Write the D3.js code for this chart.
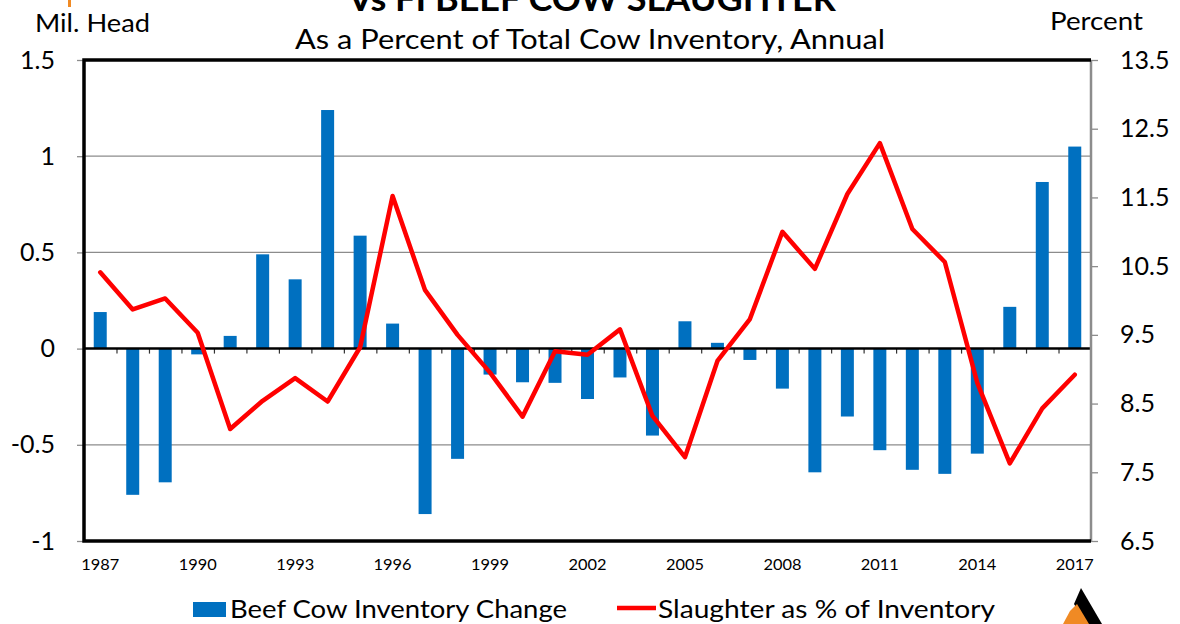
<!DOCTYPE html>
<html>
<head>
<meta charset="utf-8">
<script src="https://cdn.jsdelivr.net/npm/d3@7"></script>
<style>
  body { margin: 0; background: #fff; }
  svg { display: block; font-family: Lato, "Open Sans", sans-serif; }
</style>
</head>
<body>
<div id="chart"></div>
<script>
const years = d3.range(1987, 2018);
const inventoryChange = [0.19, -0.76, -0.695, -0.03, 0.066, 0.49, 0.36, 1.24, 0.587, 0.13,
    -0.86, -0.573, -0.135, -0.175, -0.178, -0.262, -0.15, -0.452, 0.142, 0.03,
    -0.059, -0.208, -0.643, -0.353, -0.528, -0.63, -0.651, -0.546, 0.217, 0.866, 1.05];
const slaughterPct = [10.41, 9.87, 10.03, 9.53, 8.13, 8.54, 8.87, 8.53, 9.32, 11.52,
    10.15, 9.5, 8.95, 8.31, 9.26, 9.21, 9.58, 8.32, 7.72, 9.12,
    9.73, 11.0, 10.46, 11.55, 12.29, 11.04, 10.56, 8.8, 7.63, 8.43, 8.92];
const leftTicks = [-1, -0.5, 0, 0.5, 1, 1.5];
const rightTicks = [6.5, 7.5, 8.5, 9.5, 10.5, 11.5, 12.5, 13.5];
const yearLabels = [1987, 1990, 1993, 1996, 1999, 2002, 2005, 2008, 2011, 2014, 2017];

const width = 1180;
const height = 624;
const margin = { top: 60, right: 89, bottom: 83, left: 84 };
const innerWidth = width - margin.left - margin.right;
const innerHeight = height - margin.top - margin.bottom;

const svg = d3.select("#chart")
    .append("svg")
    .attr("width", width)
    .attr("height", height);

const xScale = d3.scaleBand()
    .domain(years)
    .range([0, innerWidth])
    .paddingInner(0.6)
    .paddingOuter(0.3);

const xEdge = d3.scaleLinear()
    .domain([0, years.length])
    .range([0, innerWidth]);

const yLeft = d3.scaleLinear()
    .domain([-1, 1.5])
    .range([innerHeight, 0]);

const yRight = d3.scaleLinear()
    .domain([6.5, 13.5])
    .range([innerHeight, 0]);

const g = svg.append("g")
    .attr("transform", `translate(${margin.left}, ${margin.top})`);

// gridlines
g.selectAll(".grid").data([-0.5, 0.5, 1])
    .enter().append("line")
    .attr("x1", 0)
    .attr("x2", innerWidth)
    .attr("y1", d => yLeft(d))
    .attr("y2", d => yLeft(d))
    .attr("stroke", "#8c8c8c")
    .attr("stroke-width", 1.3);

// left axis (plain hyphen for negatives, like the original)
const yAxisG = g.append("g").call(d3.axisLeft(yLeft).tickValues(leftTicks).tickSize(7).tickPadding(22)
    .tickFormat(d => String(d)));
yAxisG.select(".domain").remove();
yAxisG.selectAll("line").attr("stroke", "#8c8c8c").attr("stroke-width", 1.3);
yAxisG.selectAll("text")
    .style("font-size", "25px")
    .style("font-family", "Lato, sans-serif")
    .attr("fill", "#000");

// right axis
const yRightG = g.append("g")
    .attr("transform", `translate(${innerWidth}, 0)`)
    .call(d3.axisRight(yRight).tickValues(rightTicks).tickSize(7).tickPadding(22)
        .tickFormat(d3.format(".1f")));
yRightG.select(".domain").remove();
yRightG.selectAll("line").attr("stroke", "#8c8c8c").attr("stroke-width", 1.3);
yRightG.selectAll("text")
    .style("font-size", "25px")
    .style("font-family", "Lato, sans-serif")
    .attr("fill", "#000");

// bars
g.selectAll(".bar").data(inventoryChange)
    .enter().append("rect")
    .attr("class", "bar")
    .attr("x", (d, i) => xScale(years[i]))
    .attr("width", xScale.bandwidth())
    .attr("y", d => yLeft(Math.max(0, d)))
    .attr("height", d => Math.abs(yLeft(d) - yLeft(0)))
    .attr("fill", "#0070c0");

// zero line with category ticks
const zeroG = g.append("g")
    .attr("transform", `translate(0, ${yLeft(0)})`)
    .call(d3.axisBottom(xEdge).tickValues(d3.range(1, years.length)).tickSize(5).tickFormat(""));
zeroG.select(".domain").remove();
zeroG.selectAll("line").attr("stroke", "#333").attr("stroke-width", 1.2);
g.append("line")
    .attr("x1", 0).attr("x2", innerWidth)
    .attr("y1", yLeft(0)).attr("y2", yLeft(0))
    .attr("stroke", "#000")
    .attr("stroke-width", 2.5);

// year labels
const xAxisG = g.append("g")
    .attr("transform", `translate(0, ${innerHeight})`)
    .call(d3.axisBottom(xScale).tickValues(yearLabels).tickSize(0).tickPadding(18));
xAxisG.select(".domain").remove();
xAxisG.selectAll("text")
    .style("font-size", "16px")
    .style("font-family", "Lato, sans-serif")
    .attr("textLength", 38)
    .attr("lengthAdjust", "spacingAndGlyphs")
    .attr("fill", "#000");

// line
const lineGenerator = d3.line()
    .x((d, i) => xScale(years[i]) + xScale.bandwidth() / 2)
    .y(d => yRight(d));

g.append("path")
    .attr("fill", "none")
    .attr("stroke", "#ff0000")
    .attr("stroke-width", 4.5)
    .attr("stroke-linejoin", "round")
    .attr("stroke-linecap", "round")
    .attr("d", lineGenerator(slaughterPct));

// frame
g.append("line").attr("x1", innerWidth).attr("x2", innerWidth).attr("y1", 0).attr("y2", innerHeight)
    .attr("stroke", "#8c8c8c").attr("stroke-width", 2.5);
g.append("path")
    .attr("d", `M${innerWidth},0H0V${innerHeight}H${innerWidth}`)
    .attr("fill", "none")
    .attr("stroke", "#000")
    .attr("stroke-width", 3.5);

// titles
const addText = (x, y, size, txt, len, anchor) => svg.append("text")
    .attr("x", x).attr("y", y)
    .attr("text-anchor", anchor || "start")
    .attr("font-size", size)
    .attr("textLength", len)
    .attr("lengthAdjust", "spacingAndGlyphs")
    .text(txt);

addText(592, 11, "34px", "Vs FI BEEF COW SLAUGHTER", 488, "middle").attr("font-weight", "bold");
addText(590, 49, "27px", "As a Percent of Total Cow Inventory, Annual", 590, "middle");
addText(35, 32, "25px", "Mil. Head", 115);
addText(1050, 30, "25px", "Percent", 93);

// legend
const legend = svg.append("g");
legend.append("rect")
    .attr("x", 193).attr("y", 602).attr("width", 33).attr("height", 15)
    .attr("fill", "#0070c0");
addText(230, 618, "25px", "Beef Cow Inventory Change", 337);
legend.append("line")
    .attr("x1", 617).attr("x2", 656).attr("y1", 608).attr("y2", 608)
    .attr("stroke", "#ff0000").attr("stroke-width", 4.5);
addText(658, 618, "25px", "Slaughter as % of Inventory", 337);

// decorations: orange mark and logo
svg.append("rect").attr("x", 68).attr("y", 0).attr("width", 3).attr("height", 7).attr("fill", "#f08a24");
svg.append("path").attr("d", "M1081,588 L1102,624 L1086,624 L1074,604 Z").attr("fill", "#000");
svg.append("path").attr("d", "M1070,611 L1077,604 L1089,624 L1063,624 Z").attr("fill", "#f08a24");
</script>
</body>
</html>
